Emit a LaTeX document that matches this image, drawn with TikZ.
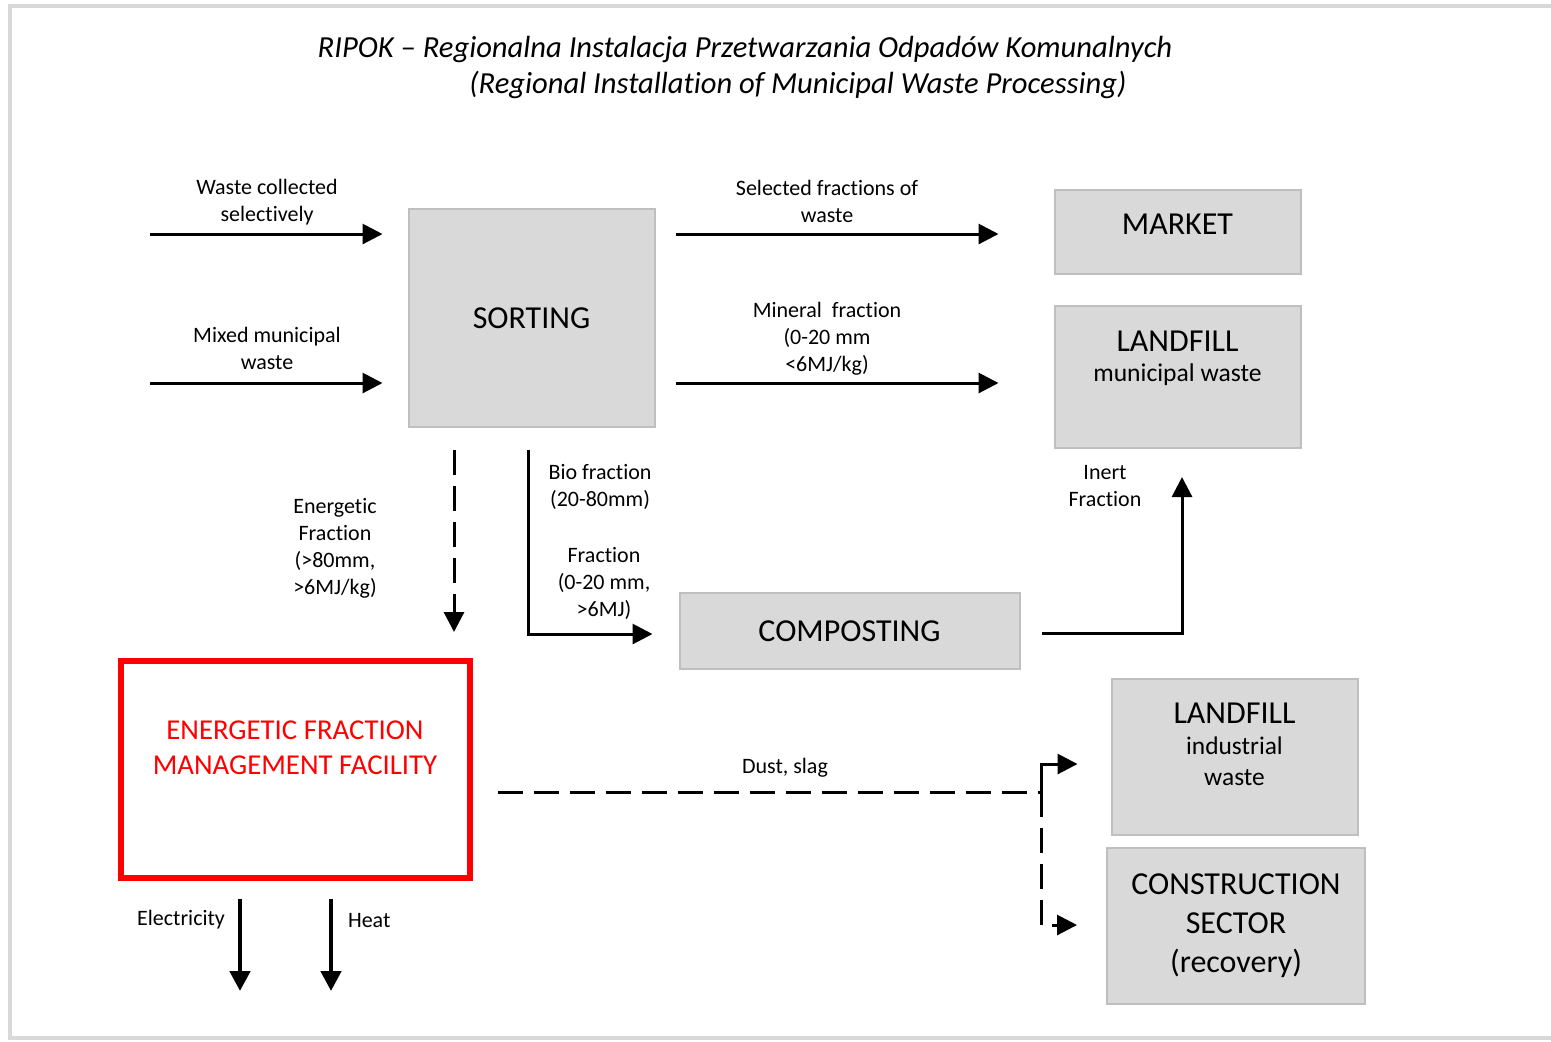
\documentclass[tikz,border=0pt]{standalone}
\usepackage{fontspec}
\setmainfont{Carlito}[Ligatures={NoCommon,NoRare}]
\usepackage{tikz}
\usetikzlibrary{arrows.meta,positioning,calc}
\definecolor{stagegray}{HTML}{D9D9D9}
\definecolor{stageedge}{HTML}{BFBFBF}
\definecolor{framegray}{HTML}{D9D9D9}
\definecolor{facilityred}{HTML}{FF0000}

\begin{document}
\begin{tikzpicture}[x=0.5pt, y=-0.5pt,
    stage/.style={rectangle, draw=stageedge, fill=stagegray, line width=1pt,
                  font=\fontsize{16}{19.5}\selectfont, align=center},
    facility/.style={rectangle, draw=facilityred, line width=3pt},
    flowlabel/.style={font=\fontsize{11}{13.5}\selectfont, align=center},
    flow/.style={line width=1.5pt, -{Triangle[length=10pt,width=10pt]}},
    dashflow/.style={flow, dash pattern=on 12.5pt off 5.5pt},
    output/.style={line width=2.3pt, -{Triangle[length=10pt,width=10pt]}}
]
    \useasboundingbox (0,0) rectangle (1551,1041);

    % Frame
    \draw[framegray, line width=2.3pt] (1551,6) -- (10,6) -- (10,1038) -- (1551,1038);

    % Title
    \node[font=\fontsize{15.3}{18}\selectfont\itshape] (title1) at (745,49)
        {RIPOK -- Regionalna Instalacja Przetwarzania Odpadów Komunalnych};
    \node[font=\fontsize{15.3}{18}\selectfont\itshape] (title2) at (798,85)
        {(Regional Installation of Municipal Waste Processing)};

    % Stages
    \node[stage, minimum width=123pt, minimum height=42pt] (market) at (1177.5,232) {};
    \node[stage, minimum width=123pt, minimum height=109pt] (sorting) at (531.5,318) {SORTING};
    \node[stage, minimum width=123pt, minimum height=71pt] (lfmun) at (1177.5,377) {};
    \node[stage, minimum width=170pt, minimum height=38pt] (compost) at (849.5,631) {COMPOSTING};
    \node[stage, minimum width=123pt, minimum height=78pt] (lfind) at (1234.5,757) {};
    \node[stage, minimum width=129pt, minimum height=78pt] (constr) at (1236,926)
        {CONSTRUCTION\\SECTOR\\(recovery)};

    % Energetic fraction facility
    \node[facility, minimum width=174.5pt, minimum height=108.5pt] (efmf) at (295,769.5) {};

    % Texts in boxes
    \node[font=\fontsize{16}{19}\selectfont] (markettext) at (1177.5,224) {MARKET};
    \node[font=\fontsize{12.8}{15}\selectfont, align=center] (lfmuntext) at (1177.5,358)
        {{\fontsize{16}{19}\selectfont LANDFILL}\\municipal waste};
    \node[font=\fontsize{12.7}{15.5}\selectfont, align=center] (lfindtext) at (1234.5,744)
        {{\fontsize{16}{19}\selectfont LANDFILL}\\industrial\\waste};
    \node[text=facilityred, font=\fontsize{14.4}{17.5}\selectfont, align=center] (efmftext) at (295,747.5)
        {ENERGETIC FRACTION\\MANAGEMENT FACILITY};

    % Inputs
    \coordinate (wsel) at (150,234);
    \coordinate (wmix) at (150,383);
    \draw[flow, shorten >=12.5pt] (wsel) -- (wsel -| sorting.west);
    \draw[flow, shorten >=12.5pt] (wmix) -- (wmix -| sorting.west);
    \node[flowlabel] at (267,202) {Waste collected\\selectively};
    \node[flowlabel] at (267,348.5) {Mixed municipal\\waste};

    % Outputs of sorting
    \draw[flow, shorten <=10pt, shorten >=27.5pt] (sorting.east |- wsel) -- (market.west |- wsel);
    \draw[flow, shorten <=10pt, shorten >=27.5pt] (sorting.east |- wmix) -- (lfmun.west |- wmix);
    \node[flowlabel] at (827,201.5) {Selected fractions of\\waste};
    \node[flowlabel] at (827,339) {Mineral\ \ fraction\\(0-20 mm\\<6MJ/kg)};

    \coordinate (ecol) at (454,0);
    \coordinate (bcol) at (528,0);
    \draw[dashflow, shorten <=11pt, shorten >=13pt] (sorting.south -| ecol) -- (efmf.north -| ecol);
    \draw[flow, shorten <=11pt, shorten >=13pt] (sorting.south -| bcol) |- ($(compost.west)+(0,3)$);
    \node[flowlabel] at (335,548.5) {Energetic\\Fraction\\(>80mm,\\>6MJ/kg)};
    \node[flowlabel] at (600,486.5) {Bio fraction\\(20-80mm)};
    \node[flowlabel] at (604,583.5) {Fraction\\(0-20 mm,\\>6MJ)};

    % Composting residue
    \draw[flow, shorten <=10.5pt, shorten >=14pt] ($(compost.east)+(0,2)$) -| ($(lfmun.south)+(4.5,0)$);
    \node[flowlabel] at (1105,486.5) {Inert\\Fraction};

    % Dust and slag
    \coordinate (split) at (1041,792);
    \draw[dashflow, -, shorten <=12.5pt] (efmf.east |- split) -- (split);
    \draw[flow, shorten >=16.5pt] (split) |- ($(lfind.west)+(0,7)$);
    \draw[dashflow, shorten >=14.5pt] (split) |- ($(constr.west)+(0,-1)$);
    \node[flowlabel] at (785,768) {Dust, slag};

    % Energy
    \coordinate (elec) at (240,991);
    \coordinate (heat) at (331,991);
    \draw[output, shorten <=9pt] (efmf.south -| elec) -- (elec);
    \draw[output, shorten <=9pt] (efmf.south -| heat) -- (heat);
    \node[flowlabel, anchor=east] at (232,920) {Electricity};
    \node[flowlabel, anchor=west] at (341,920) {Heat};
\end{tikzpicture}
\end{document}
